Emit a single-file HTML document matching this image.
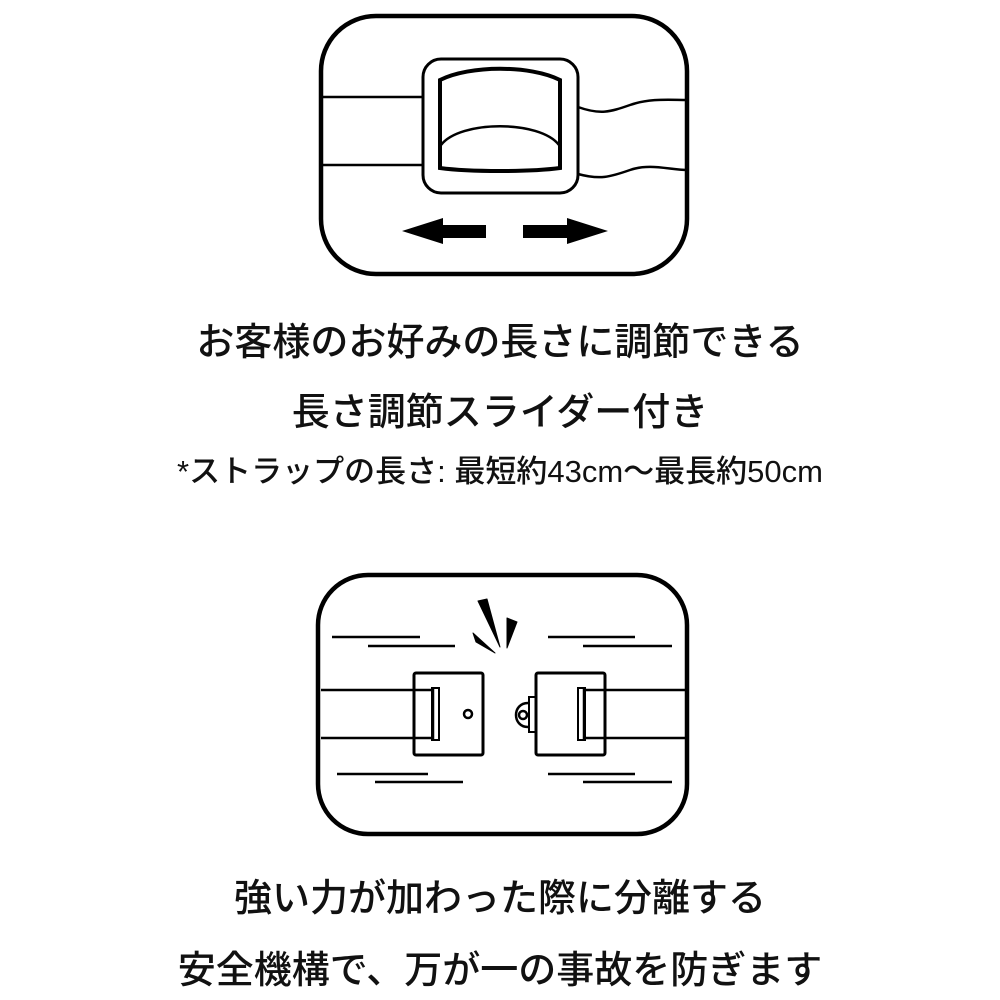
<!DOCTYPE html>
<html><head><meta charset="utf-8"><style>
body{margin:0;width:1000px;height:1000px;background:#fff;overflow:hidden;position:relative;font-family:"Liberation Sans","Noto Sans CJK JP",sans-serif;color:#111}
.t{position:absolute;left:0;width:1000px;text-align:center;white-space:nowrap;font-weight:500}
</style></head><body>
<svg width="1000" height="1000" style="position:absolute;left:0;top:0" fill="none" stroke="#000">
<rect x="321" y="16" width="366" height="258" rx="55" stroke-width="4.5"/>
<path d="M321 97H423M321 165H423" stroke-width="2.5"/>
<path d="M578 107C600 115 610 112 630 105C650 98 670 100 687 100M578 174C600 180 610 177 630 170C650 163 670 170 687 170" stroke-width="2.5"/>
<rect x="423" y="59" width="155" height="134" rx="18" stroke-width="3" fill="#fff"/>
<path d="M440 80C470 65 530 65 560 80L560 168C530 172 470 172 440 168Z" stroke-width="4" fill="#fff"/>
<path d="M441 145C460 120 540 120 559 145" stroke-width="2.5"/>
<path d="M402 231L443 218V225H486V238H443V244Z" fill="#000" stroke="none"/>
<path d="M608 231L567 218V225H523V238H567V244Z" fill="#000" stroke="none"/>

<rect x="318" y="575" width="369" height="259" rx="50" stroke-width="4.5"/>
<path d="M332 637H420M368 646H455M548 637H635M583 646H672M337 774H428M375 782H463M548 774H635M583 782H672" stroke-width="2.5"/>
<path d="M478 601L487 599L500 647Z M473 633L476 642L495 653Z M507 618L517 622L507 648Z" fill="#000" stroke="#000" stroke-width="1" stroke-linejoin="round"/>
<rect x="414" y="673" width="69" height="82" rx="2" stroke-width="3" fill="#fff"/>
<path d="M321 690H433V738H321" stroke-width="2.5"/>
<rect x="432" y="688" width="7" height="52" stroke-width="2"/>
<circle cx="468" cy="714" r="4" stroke-width="2.5"/>
<rect x="536" y="673" width="69" height="82" rx="2" stroke-width="3" fill="#fff"/>
<path d="M686 690H584V738H686" stroke-width="2.5"/>
<rect x="578" y="688" width="7" height="52" stroke-width="2"/>
<rect x="529" y="697" width="7" height="35" stroke-width="2"/>
<path d="M528 703C512 703 512 727 528 727" stroke-width="2.5"/>
<circle cx="523" cy="715" r="4" stroke-width="2.5"/>
</svg>
<div class="t" style="top:311px;font-size:38px">お客様のお好みの長さに調節できる</div>
<div class="t" style="top:381px;font-size:38px">長さ調節スライダー付き</div>
<div class="t" style="top:446px;font-size:31px">*ストラップの長さ: 最短約43cm～最長約50cm</div>
<div class="t" style="top:867px;font-size:38px">強い力が加わった際に分離する</div>
<div class="t" style="top:939px;font-size:38px">安全機構で、万が一の事故を防ぎます</div>
</body></html>
